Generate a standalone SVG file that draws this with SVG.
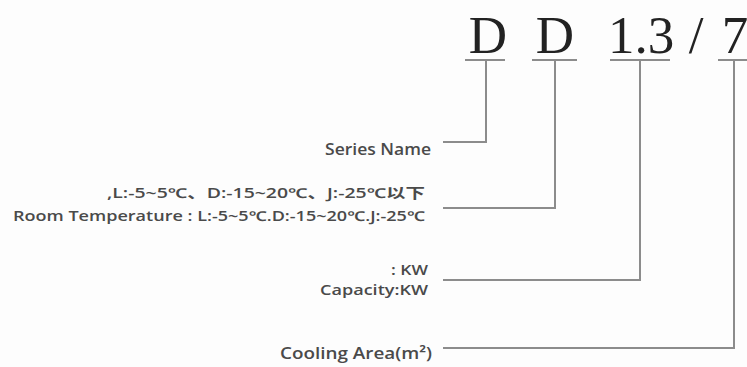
<svg xmlns="http://www.w3.org/2000/svg" width="747" height="367" viewBox="0 0 747 367">
<style>
.big{font-family:"Liberation Serif","Times New Roman",serif;font-size:53px;fill:#222;text-anchor:middle}
.lbl{font-family:"Open Sans","Noto Sans","Noto Sans CJK SC",sans-serif;font-weight:600;fill:#4a4a4a;text-anchor:end}
.ln{fill:none;stroke:#8c8c8c;stroke-width:2}
</style>
<rect width="747" height="367" fill="#fdfdfd"/>
<g id="code">
<text class="big" x="488" y="53">D</text>
<text class="big" x="555" y="53">D</text>
<text class="big" x="641" y="53">1.3</text>
<text class="big" x="696" y="53">/</text>
<text class="big" x="735" y="53">7</text>
</g>
<g id="series-name"><text class="lbl" x="431" y="155" font-size="16" textLength="106" lengthAdjust="spacingAndGlyphs">Series Name</text></g>
<g id="room-temperature">
<text class="lbl" x="425" y="198" font-size="13.5" textLength="318" lengthAdjust="spacingAndGlyphs">,L:-5~5℃、D:-15~20℃、J:-25℃以下</text>
<text class="lbl" x="425" y="221" font-size="13.5" textLength="412" lengthAdjust="spacingAndGlyphs">Room Temperature : L:-5~5℃.D:-15~20℃.J:-25℃</text>
</g>
<g id="capacity">
<text class="lbl" x="428" y="275" font-size="14.5" textLength="37" lengthAdjust="spacingAndGlyphs">: KW</text>
<text class="lbl" x="428" y="295" font-size="14.5" textLength="108" lengthAdjust="spacingAndGlyphs">Capacity:KW</text>
</g>
<g id="cooling-area"><text class="lbl" x="432" y="359" font-size="16" textLength="152" lengthAdjust="spacingAndGlyphs">Cooling Area(m²)</text></g>
<g id="connectors" class="ln">
<line x1="465" y1="60" x2="505" y2="60"/>
<line x1="532" y1="60" x2="577" y2="60"/>
<line x1="610" y1="60" x2="670" y2="60"/>
<line x1="718" y1="60" x2="747" y2="60"/>
<polyline points="486,60 486,142 443,142"/>
<polyline points="555,60 555,208 443,208"/>
<polyline points="640,60 640,280 443,280"/>
<polyline points="734,60 734,348 443,348"/>
</g>
</svg>
